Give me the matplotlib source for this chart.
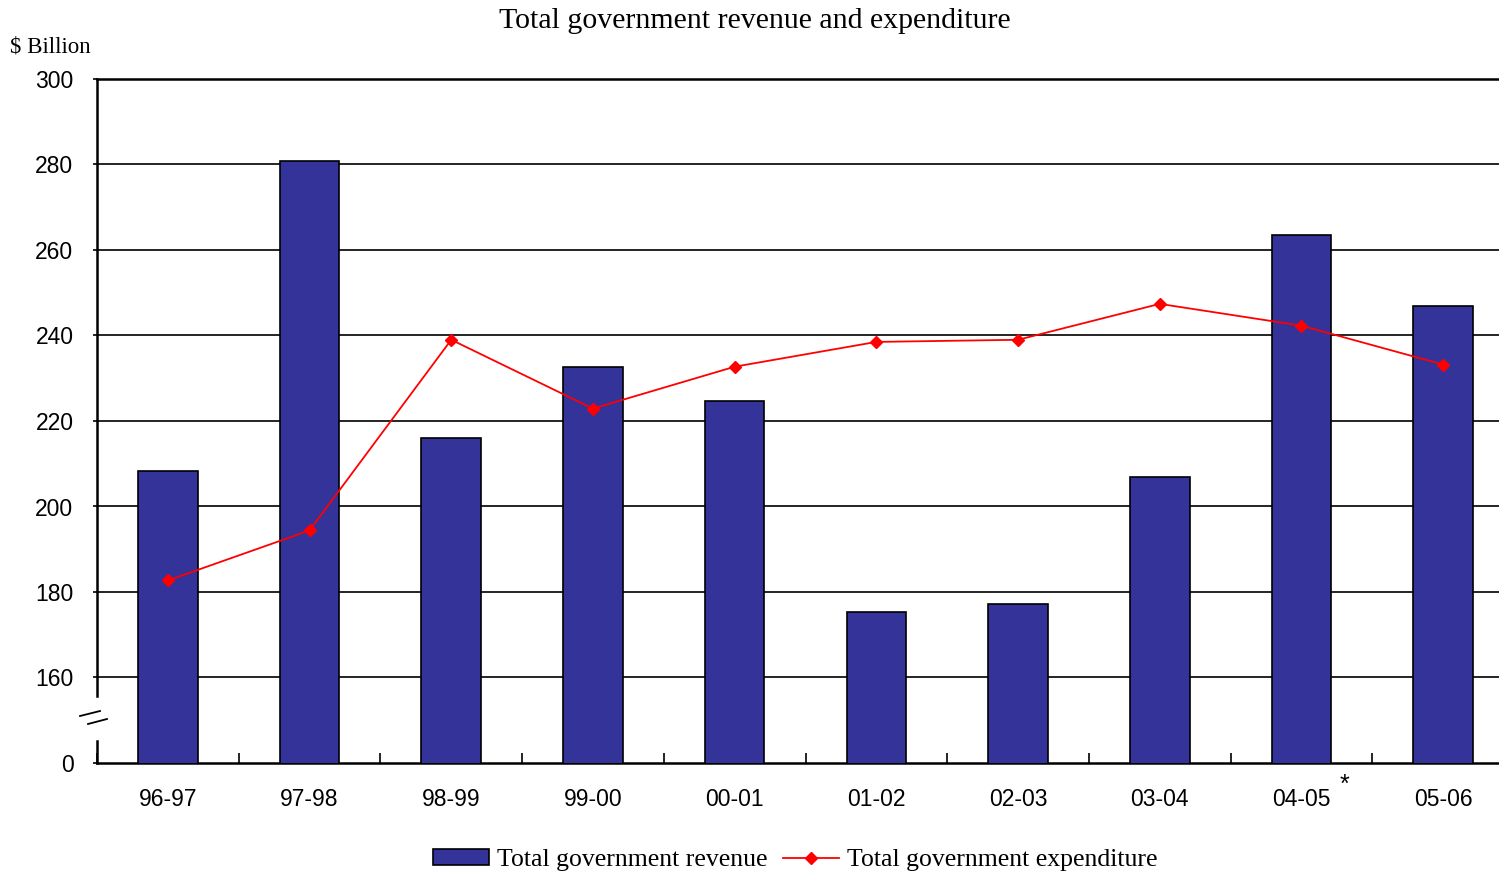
import matplotlib
matplotlib.use("Agg")
import matplotlib.pyplot as plt
import numpy as np
from matplotlib.lines import Line2D

# ---------- données ----------
years = ["96-97", "97-98", "98-99", "99-00", "00-01",
         "01-02", "02-03", "03-04", "04-05", "05-06"]
revenue = [208.2, 280.8, 216.1, 232.7, 224.7, 175.4, 177.3, 207.0, 263.5, 247.0]
expenditure = [182.7, 194.4, 239.0, 222.9, 232.7, 238.5, 239.0, 247.4, 242.3, 233.2]
ytick_vals = [140, 160, 180, 200, 220, 240, 260, 280, 300]
ytick_labels = ["0", "160", "180", "200", "220", "240", "260", "280", "300"]
# -----------------------------

W, H = 1499, 872
fig = plt.figure(figsize=(W / 100, H / 100), dpi=100)
ax = fig.add_axes([97 / W, (H - 763) / H, (1514 - 97) / W, (763 - 79) / H])

x = np.arange(len(years))
ax.bar(x, revenue, width=0.42, color="#333399", edgecolor="black",
       linewidth=1.2, zorder=3)
ax.plot(x, expenditure, color="red", linewidth=1.3, marker="D",
        markersize=6, zorder=4)

ax.set_xlim(-0.5, len(years) - 0.5)
ax.set_ylim(140, 300)

# lignes horizontales
for v in ytick_vals[1:]:
    ax.axhline(v, color="black", linewidth=1.2, zorder=1)

ax.set_yticks(ytick_vals)
ax.set_yticklabels(ytick_labels, family="Liberation Sans", fontsize=16.5)
ax.tick_params(axis="y", length=3, width=1.2, pad=14)

ax.set_xticks(x)
ax.set_xticklabels(years, family="Liberation Sans", fontsize=16.5)
ax.tick_params(axis="x", length=0, pad=18)
ax.set_xticks(np.arange(len(years) + 1) - 0.5, minor=True)
ax.tick_params(axis="x", which="minor", direction="in", length=7, width=1.2)

for s in ["top", "right", "left"]:
    ax.spines[s].set_visible(False)
ax.spines["bottom"].set_linewidth(1.8)

# axe gauche coupé
trans = ax.get_yaxis_transform()
ax.plot([0, 0], [140, 145.1], transform=trans, color="black", lw=1.8,
        clip_on=False, zorder=5)
ax.plot([0, 0], [155.6, 300], transform=trans, color="black", lw=1.8,
        clip_on=False, zorder=5)
ax.plot([0, 1], [300, 300], transform=trans, color="black", lw=1.8,
        clip_on=False, zorder=5)
# marques de coupure
fig.add_artist(Line2D([80 / W, 100 / W], [(H - 716) / H, (H - 711) / H],
                      color="black", lw=1.3))
fig.add_artist(Line2D([88 / W, 107 / W], [(H - 724) / H, (H - 719) / H],
                      color="black", lw=1.3))

fig.text(755 / W, 1 - 21 / H, "Total government revenue and expenditure",
         ha="center", va="center", family="Liberation Serif", fontsize=21.5)
fig.text(10 / W, 1 - 47 / H, "$ Billion", ha="left", va="center",
         family="Liberation Serif", fontsize=16.5)
fig.text(1344 / W, 1 - 785 / H, "*", ha="center", va="center",
         family="Liberation Sans", fontsize=18)

handles = [
    plt.Rectangle((0, 0), 1, 1, facecolor="#333399", edgecolor="black", lw=1.2),
    Line2D([], [], color="red", lw=1.3, marker="D", markersize=6),
]
fig.legend(handles, ["Total government revenue", "Total government expenditure"],
           loc="center", bbox_to_anchor=(795 / W, 1 - 860 / H), ncol=2,
           frameon=False, prop={"family": "Liberation Serif", "size": 18.5},
           handlelength=2.2, handleheight=0.6, handletextpad=0.3,
           columnspacing=0.6)

fig.savefig("out.png", dpi=100)
